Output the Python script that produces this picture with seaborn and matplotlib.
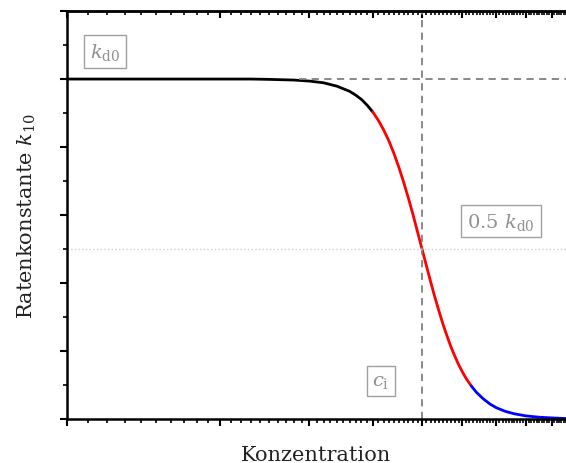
import matplotlib
matplotlib.use('Agg')
import matplotlib.pyplot as plt
import pandas as pd
import seaborn as sns
from matplotlib.ticker import NullFormatter

# Werte (Konzentration, Ratenkonstante relativ zu k_d0)
conc = [1.0, 1.5, 2.0, 2.3, 2.5, 2.8, 3.0, 3.2, 3.4, 3.6, 3.7, 3.8, 3.9, 4.0,
        4.1, 4.2, 4.3, 4.4, 4.5, 4.6, 4.7, 4.8, 4.9, 5.0, 5.1, 5.2, 5.3, 5.4,
        5.5, 5.6, 5.7, 5.8, 5.9, 6.0, 6.1, 6.25,
        6.4, 6.6, 6.8, 7.0, 7.3, 7.6, 8.0, 8.5, 9.0, 9.6]
k_rate = [1.000, 1.000, 1.000, 1.000, 0.999, 0.997, 0.994, 0.989, 0.979, 0.964, 0.953, 0.940, 0.923, 0.903,
          0.879, 0.851, 0.819, 0.782, 0.741, 0.697, 0.650, 0.601, 0.550, 0.500, 0.451, 0.403, 0.358, 0.317,
          0.278, 0.244, 0.212, 0.185, 0.160, 0.139, 0.120, 0.097,
          0.078, 0.059, 0.044, 0.033, 0.022, 0.015, 0.009, 0.005, 0.003, 0.001]
k_d0 = 1.0
c_i = 5.0
c_red_start = 4.0
c_blue_start = 6.25

major_x = [1, 2, 3, 4, 5, 6, 7, 8, 9]
minor_x = [v / 10 for v in range(10, 97) if v % 10 != 0]
major_y = [0, 0.2, 0.4, 0.6, 0.8, 1.0, 1.2]
minor_y = [0.1, 0.3, 0.5, 0.7, 0.9, 1.1]

df = pd.DataFrame({'conc': conc, 'k': k_rate})

sns.set_theme(style='ticks')
plt.rcParams['font.family'] = ['DejaVu Serif']
plt.rcParams['mathtext.fontset'] = 'dejavuserif'

fig = plt.figure(figsize=(5.66, 4.64), dpi=100)
ax = fig.add_axes([0.118, 0.095, 0.882, 0.879])

# Kurve in drei Abschnitten (schwarz / rot / blau)
seg_black = df[df['conc'] <= c_red_start]
seg_red = df[(df['conc'] >= c_red_start) & (df['conc'] <= c_blue_start)]
seg_blue = df[df['conc'] >= c_blue_start]
sns.lineplot(data=seg_black, x='conc', y='k', color='black', lw=2, ax=ax)
sns.lineplot(data=seg_red, x='conc', y='k', color='red', lw=2, ax=ax)
sns.lineplot(data=seg_blue, x='conc', y='k', color='blue', lw=2, ax=ax)

# Hilfslinien
ax.hlines(k_d0, 2.87, 9.6, colors='#808080', linestyles=(0, (4, 3)), lw=1.3)
ax.axvline(c_i, color='#808080', ls=(0, (4, 3)), lw=1.3)
ax.axhline(0.5 * k_d0, color='#d0d0d0', ls=':', lw=1)

ax.set_xscale('log')
ax.set_xlim(1.0, 9.6)
ax.set_ylim(0, 1.2)

ax.set_xticks(major_x)
ax.set_xticks(minor_x, minor=True)
ax.set_yticks(major_y)
ax.set_yticks(minor_y, minor=True)
for axis in [ax.xaxis, ax.yaxis]:
    axis.set_major_formatter(NullFormatter())
    axis.set_minor_formatter(NullFormatter())

ax.tick_params(axis='both', which='major', direction='out', length=5, width=1.5, color='black')
ax.tick_params(axis='both', which='minor', direction='out', length=3, width=1.2, color='black')
# oben: Ticks nach innen (gespiegelte Achse)
ax.tick_params(axis='x', which='both', bottom=True, top=False)
for side in ['left', 'bottom', 'top']:
    ax.spines[side].set_linewidth(1.8)
    ax.spines[side].set_color('black')
ax.spines['right'].set_visible(False)

sec = ax.secondary_xaxis('top')
sec.set_xticks(major_x)
sec.set_xticks(minor_x, minor=True)
sec.xaxis.set_major_formatter(NullFormatter())
sec.xaxis.set_minor_formatter(NullFormatter())
sec.tick_params(axis='x', which='major', direction='in', length=5, width=1.5, color='black')
sec.tick_params(axis='x', which='minor', direction='in', length=3, width=1.2, color='black')
sec.spines['top'].set_linewidth(1.8)

ax.set_xlabel('Konzentration', fontsize=15, color='#222222', labelpad=10)
ax.set_ylabel(r'Ratenkonstante $k_{10}$', fontsize=15, color='#222222', labelpad=12)

box = dict(boxstyle='square,pad=0.3', fc='white', ec='#a0a0a0', lw=1)
ax.text(1.19, 1.082, r'$k_{\mathrm{d0}}$', fontsize=14, color='#909090',
        ha='center', va='center', bbox=box)
ax.text(7.15, 0.582, r'0.5 $k_{\mathrm{d0}}$', fontsize=14, color='#909090',
        ha='center', va='center', bbox=box)
ax.text(4.15, 0.112, r'$c_{\mathrm{i}}$', fontsize=14, color='#909090',
        ha='center', va='center', bbox=box)

fig.savefig('out.png', dpi=100)
